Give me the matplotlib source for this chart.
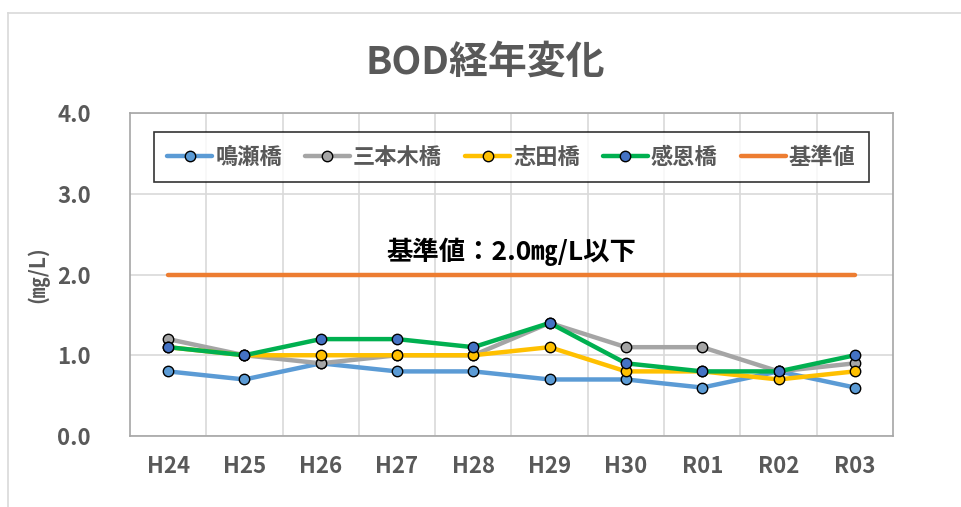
import matplotlib
matplotlib.use("Agg")
import matplotlib.pyplot as plt
from matplotlib.lines import Line2D
import numpy as np

plt.rcParams['font.family'] = ['Noto Sans CJK JP', 'DejaVu Sans']

categories = ["H24", "H25", "H26", "H27", "H28", "H29", "H30", "R01", "R02", "R03"]
naruse = [0.8, 0.7, 0.9, 0.8, 0.8, 0.7, 0.7, 0.6, 0.8, 0.6]
sanbongi = [1.2, 1.0, 0.9, 1.0, 1.0, 1.4, 1.1, 1.1, 0.8, 0.9]
shida = [1.1, 1.0, 1.0, 1.0, 1.0, 1.1, 0.8, 0.8, 0.7, 0.8]
kanon = [1.1, 1.0, 1.2, 1.2, 1.1, 1.4, 0.9, 0.8, 0.8, 1.0]
standard = [2.0] * 10
yticks = [0.0, 1.0, 2.0, 3.0, 4.0]

W, H = 962, 507
fig = plt.figure(figsize=(W / 100, H / 100), dpi=100)
ax = fig.add_axes([130 / W, 1 - 436 / H, (893 - 130) / W, (436 - 113) / H])

# outer chart border
fig.add_artist(Line2D([8 / W, 8 / W], [0, 1 - 13 / H], transform=fig.transFigure, color="#D9D9D9", lw=1.2))
fig.add_artist(Line2D([8 / W, 1], [1 - 13 / H, 1 - 13 / H], transform=fig.transFigure, color="#D9D9D9", lw=1.2))

x = np.arange(len(categories))
lw = 3.2
ms = 7.5
series = [
    ("鳴瀬橋", naruse, "#5B9BD5", "#5B9BD5"),
    ("三本木橋", sanbongi, "#A5A5A5", "#A5A5A5"),
    ("志田橋", shida, "#FFC000", "#FFC000"),
    ("感恩橋", kanon, "#00B050", "#4472C4"),
]
for i, (name, vals, lc, mc) in enumerate(series):
    ax.plot(x, vals, color=lc, lw=lw, marker="o", markersize=ms,
            markerfacecolor=mc, markeredgecolor="black", markeredgewidth=1.0,
            label=name, zorder=3 + i, solid_capstyle="round")
ax.plot(x, standard, color="#ED7D31", lw=lw, label="基準値", zorder=8, solid_capstyle="round")

ax.set_xlim(-0.5, len(categories) - 0.5)
ax.set_ylim(0, 4)
ax.set_yticks(yticks)
ax.set_yticklabels([f"{v:.1f}" for v in yticks])
ax.set_xticks(x)
ax.set_xticklabels(categories)
ax.set_xticks(np.arange(len(categories) - 1) + 0.5, minor=True)
ax.grid(axis="y", which="major", color="#D9D9D9", lw=1.2, zorder=0)
ax.grid(axis="x", which="minor", color="#D9D9D9", lw=1.2, zorder=0)
ax.tick_params(axis="both", which="both", length=0)
ax.tick_params(axis="x", pad=14)
ax.tick_params(axis="y", pad=28)
for lab in ax.get_xticklabels() + ax.get_yticklabels():
    lab.set_fontweight("bold")
    lab.set_fontsize(16)
    lab.set_color("#595959")
for sp in ax.spines.values():
    sp.set_color("#A6A6A6")
    sp.set_linewidth(1.2)

fig.text(0.5 * (8 + W) / W, 1 - 62 / H, "BOD経年変化", ha="center", va="center",
         fontsize=28, fontweight="bold", color="#595959")
fig.text(38 / W, 1 - 275 / H, "(㎎/L)", rotation=90, ha="center", va="center",
         fontsize=15, fontweight="bold", color="#595959")
ax.text(4.5, 2.28, "基準値：2.0㎎/L以下", ha="center", va="center",
        fontsize=19, fontweight="bold", color="black", zorder=9)

leg = ax.legend(loc="upper center", ncol=5, bbox_to_anchor=(0.5, 0.975),
                frameon=True, fancybox=False, edgecolor="black",
                handlelength=2.0, handletextpad=0.15, columnspacing=1.05,
                borderpad=0.6, prop={"weight": "bold", "size": 16})
leg.get_frame().set_linewidth(1.2)
for t in leg.get_texts():
    t.set_color("#595959")
leg.set_zorder(10)

fig.savefig("out.png", dpi=100)
